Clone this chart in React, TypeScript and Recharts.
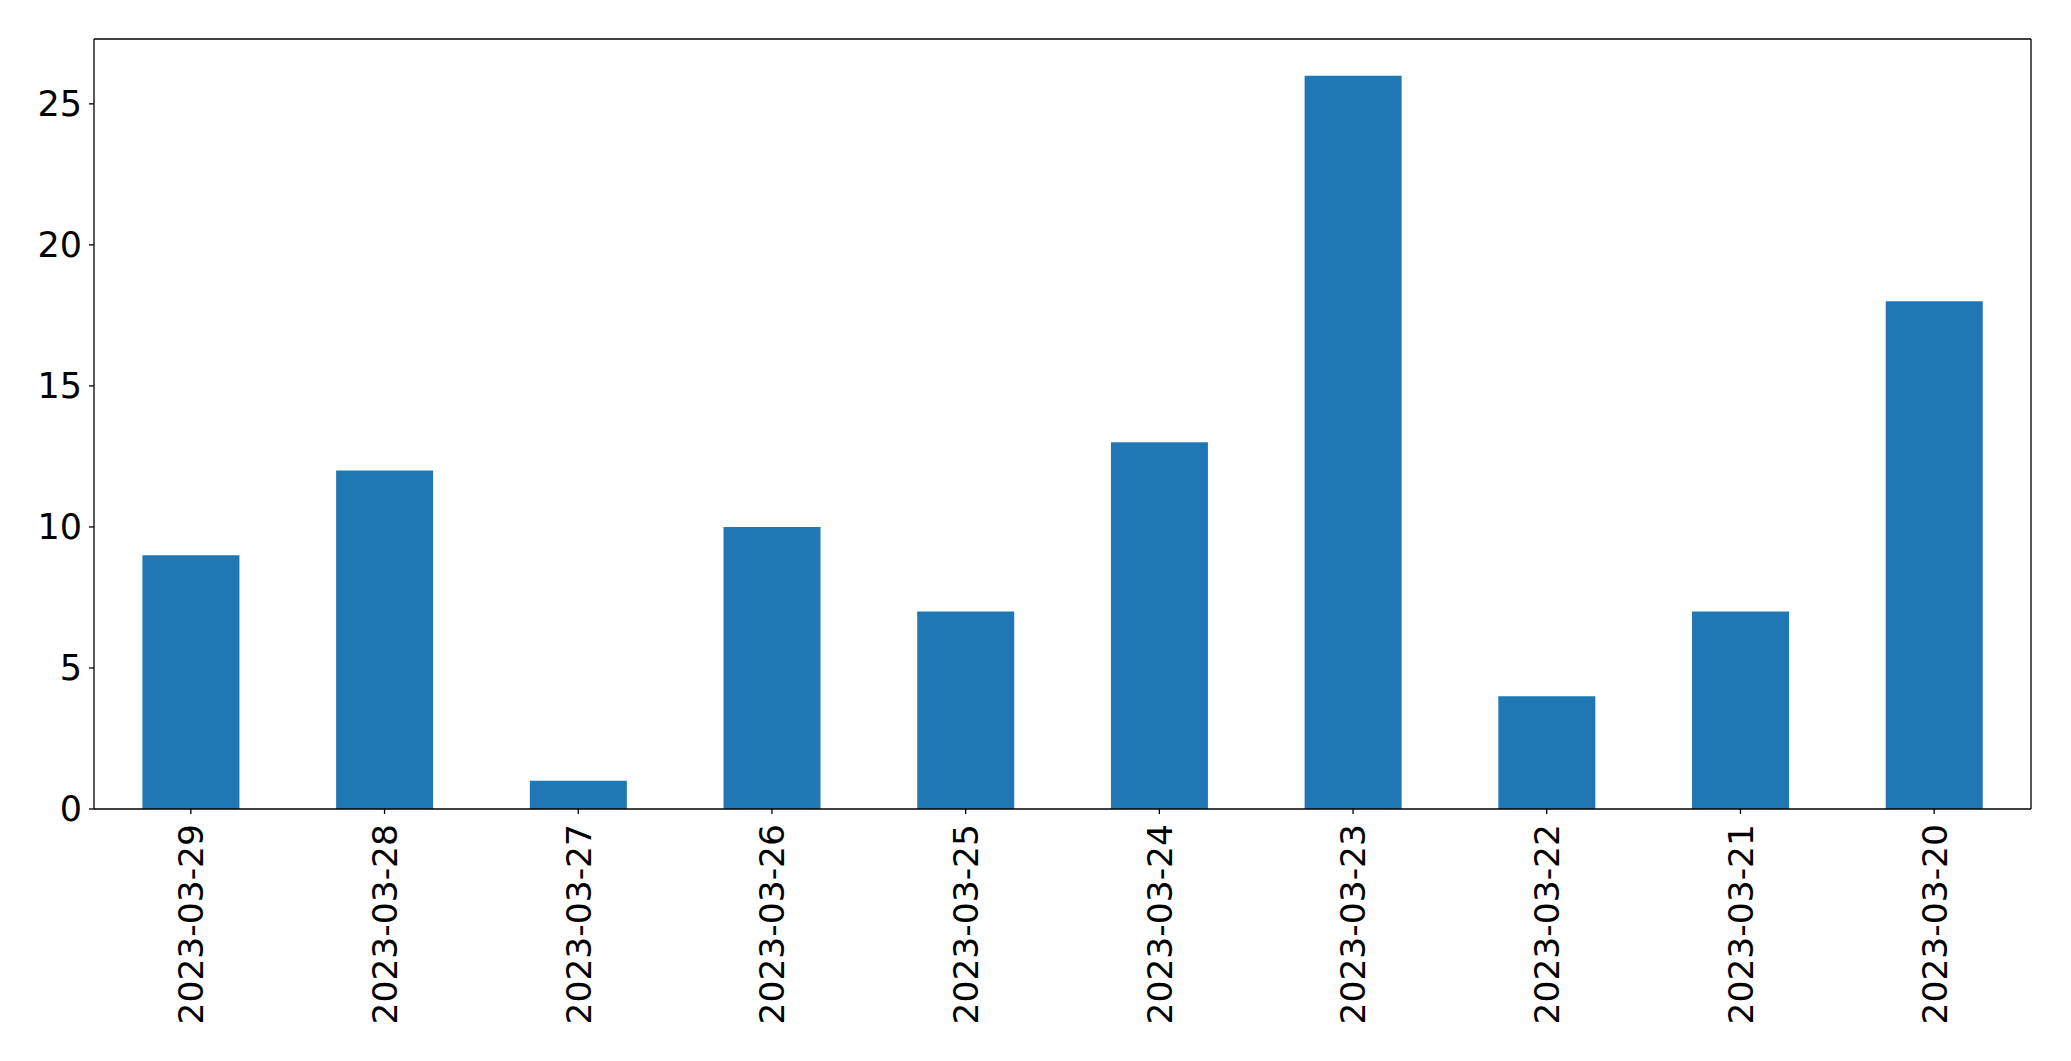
import React from "react";
import { BarChart, Bar, XAxis, YAxis } from "recharts";

const dates = [
  "2023-03-29",
  "2023-03-28",
  "2023-03-27",
  "2023-03-26",
  "2023-03-25",
  "2023-03-24",
  "2023-03-23",
  "2023-03-22",
  "2023-03-21",
  "2023-03-20",
];
const counts = [9, 12, 1, 10, 7, 13, 26, 4, 7, 18];
const yTicks = [0, 5, 10, 15, 20, 25];

const FONT = "'DejaVu Sans', sans-serif";

const data = dates.map((d, i) => ({ date: d, count: counts[i] }));

function DateTick(props: any) {
  const { x, y, payload } = props;
  return (
    <g transform={`translate(${x},${y + 8})`}>
      <text
        transform="rotate(-90)"
        textAnchor="end"
        dy="0.36em"
        fill="#000"
        fontSize={34.5}
        fontFamily={FONT}
      >
        {payload.value}
      </text>
    </g>
  );
}

export default function App() {
  return (
    <div style={{ width: 2063, height: 1053, background: "#fff" }}>
      <BarChart
        width={2063}
        height={1053}
        data={data}
        margin={{ top: 30, right: 39, left: 0, bottom: 0 }}
        barCategoryGap="25%"
      >
        <XAxis
          dataKey="date"
          height={252}
          interval={0}
          tick={<DateTick />}
          tickSize={5}
          axisLine={{ stroke: "#000", strokeWidth: 1.3 }}
          tickLine={{ stroke: "#000", strokeWidth: 1.3 }}
        />
        <XAxis
          xAxisId="top"
          dataKey="date"
          orientation="top"
          height={1}
          tick={false}
          tickLine={false}
          axisLine={{ stroke: "#000", strokeWidth: 1.3 }}
        />
        <YAxis
          width={86}
          domain={[0, 27.3]}
          ticks={yTicks}
          allowDataOverflow
          tickSize={5}
          tickMargin={7}
          tick={{ fill: "#000", fontSize: 35, fontFamily: FONT }}
          axisLine={{ stroke: "#000", strokeWidth: 1.3 }}
          tickLine={{ stroke: "#000", strokeWidth: 1.3 }}
        />
        <YAxis
          yAxisId="right"
          orientation="right"
          width={1}
          domain={[0, 27.3]}
          tick={false}
          tickLine={false}
          axisLine={{ stroke: "#000", strokeWidth: 1.3 }}
        />
        <Bar dataKey="count" fill="#1f77b4" isAnimationActive={false} />
      </BarChart>
    </div>
  );
}
